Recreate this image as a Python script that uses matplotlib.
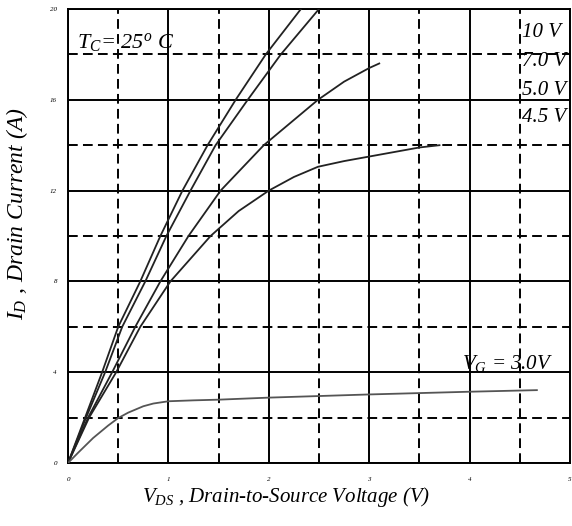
import matplotlib
matplotlib.use("Agg")
import matplotlib.pyplot as plt

plt.rcParams.update({
	"font.family": "Liberation Serif",
	"font.style": "italic",
	"mathtext.fontset": "custom",
	"mathtext.rm": "Liberation Serif:italic",
	"mathtext.it": "Liberation Serif:italic",
})

# curves: V_DS (V) vs I_D (A), one per gate voltage
vds_10v = [0, 0.17, 0.34, 0.50, 0.72, 0.92, 1.14, 1.39, 1.67, 1.97, 2.32]
id_10v = [0, 2, 4, 6, 8, 10, 12, 14, 16, 18, 20]

vds_7v = [0, 0.18, 0.37, 0.54, 0.77, 0.98, 1.22, 1.47, 1.79, 2.12, 2.50]
id_7v = [0, 2, 4, 6, 8, 10, 12, 14, 16, 18, 20]

vds_5v = [0, 0.20, 0.44, 0.67, 0.92, 1.20, 1.52, 1.95, 2.49, 2.75, 3.00, 3.10]
id_5v = [0, 2, 4, 6, 8, 10, 12, 14, 16, 16.8, 17.4, 17.6]

vds_45v = [0, 0.21, 0.48, 0.72, 1.02, 1.42, 1.70, 2.00, 2.25, 2.49, 2.75, 3.00, 3.25, 3.50, 3.70]
id_45v = [0, 2, 4, 6, 8, 10, 11.1, 12, 12.6, 13.05, 13.3, 13.5, 13.7, 13.9, 14.0]

vds_3v = [0, 0.10, 0.25, 0.40, 0.50, 0.60, 0.75, 0.85, 1.00, 1.25, 1.50, 2.00, 3.00, 4.00, 4.67]
id_3v = [0, 0.45, 1.1, 1.65, 1.98, 2.22, 2.5, 2.62, 2.72, 2.76, 2.79, 2.88, 3.02, 3.14, 3.21]

curve_labels = ["10 V", "7.0 V", "5.0 V", "4.5 V"]
label_y = [18.95, 17.67, 16.4, 15.2]

x_ticks = [0, 1, 2, 3, 4, 5]
y_ticks = [0, 4, 8, 12, 16, 20]
x_minor = [0.5, 1.5, 2.5, 3.5, 4.5]
y_minor = [2, 6, 10, 14, 18]

fig = plt.figure(figsize=(5.72, 5.26), dpi=100)
ax = fig.add_axes([68 / 572, 63 / 526, 502 / 572, 454 / 526])

dash = (0, (5, 2.7))
for xv in x_ticks:
	ax.axvline(xv, color="black", lw=1.4, zorder=1)
for yv in y_ticks:
	ax.axhline(yv, color="black", lw=1.4, zorder=1)
for xv in x_minor:
	ax.axvline(xv, color="black", lw=1.4, ls=dash, zorder=1)
for yv in y_minor:
	ax.axhline(yv, color="black", lw=1.4, ls=dash, zorder=1)

for xs, ys in [(vds_10v, id_10v), (vds_7v, id_7v), (vds_5v, id_5v), (vds_45v, id_45v)]:
	ax.plot(xs, ys, color="#222222", lw=1.3, zorder=3)
ax.plot(vds_3v, id_3v, color="#555555", lw=1.3, zorder=3)

ax.set_xlim(0, 5)
ax.set_ylim(0, 20)
ax.set_xticks(x_ticks)
ax.set_yticks(y_ticks)
ax.tick_params(length=0, labelsize=5)
ax.tick_params(axis="x", pad=10)
ax.tick_params(axis="y", pad=8)
for s in ax.spines.values():
	s.set_linewidth(1.4)

for lab, yv in zip(curve_labels, label_y):
	ax.text(4.52, yv, lab, fontsize=15, ha="left", va="center", zorder=4)
ax.text(0.09, 18.3, r"$T_C$= 25$^o$ C", fontsize=16, ha="left", va="baseline", zorder=4)
ax.text(3.92, 4.4, r"$V_G$ = 3.0V", fontsize=15, ha="left", va="center", zorder=4)

fig.text(286 / 572, 1 - 497 / 526, r"$V_{DS}$ , Drain-to-Source Voltage (V)", fontsize=15,
	ha="center", va="center")
fig.text(17 / 572, 1 - 214 / 526, r"$I_D$ , Drain Current (A)", fontsize=17,
	ha="center", va="center", rotation=90)

fig.savefig("out.png", dpi=100)
